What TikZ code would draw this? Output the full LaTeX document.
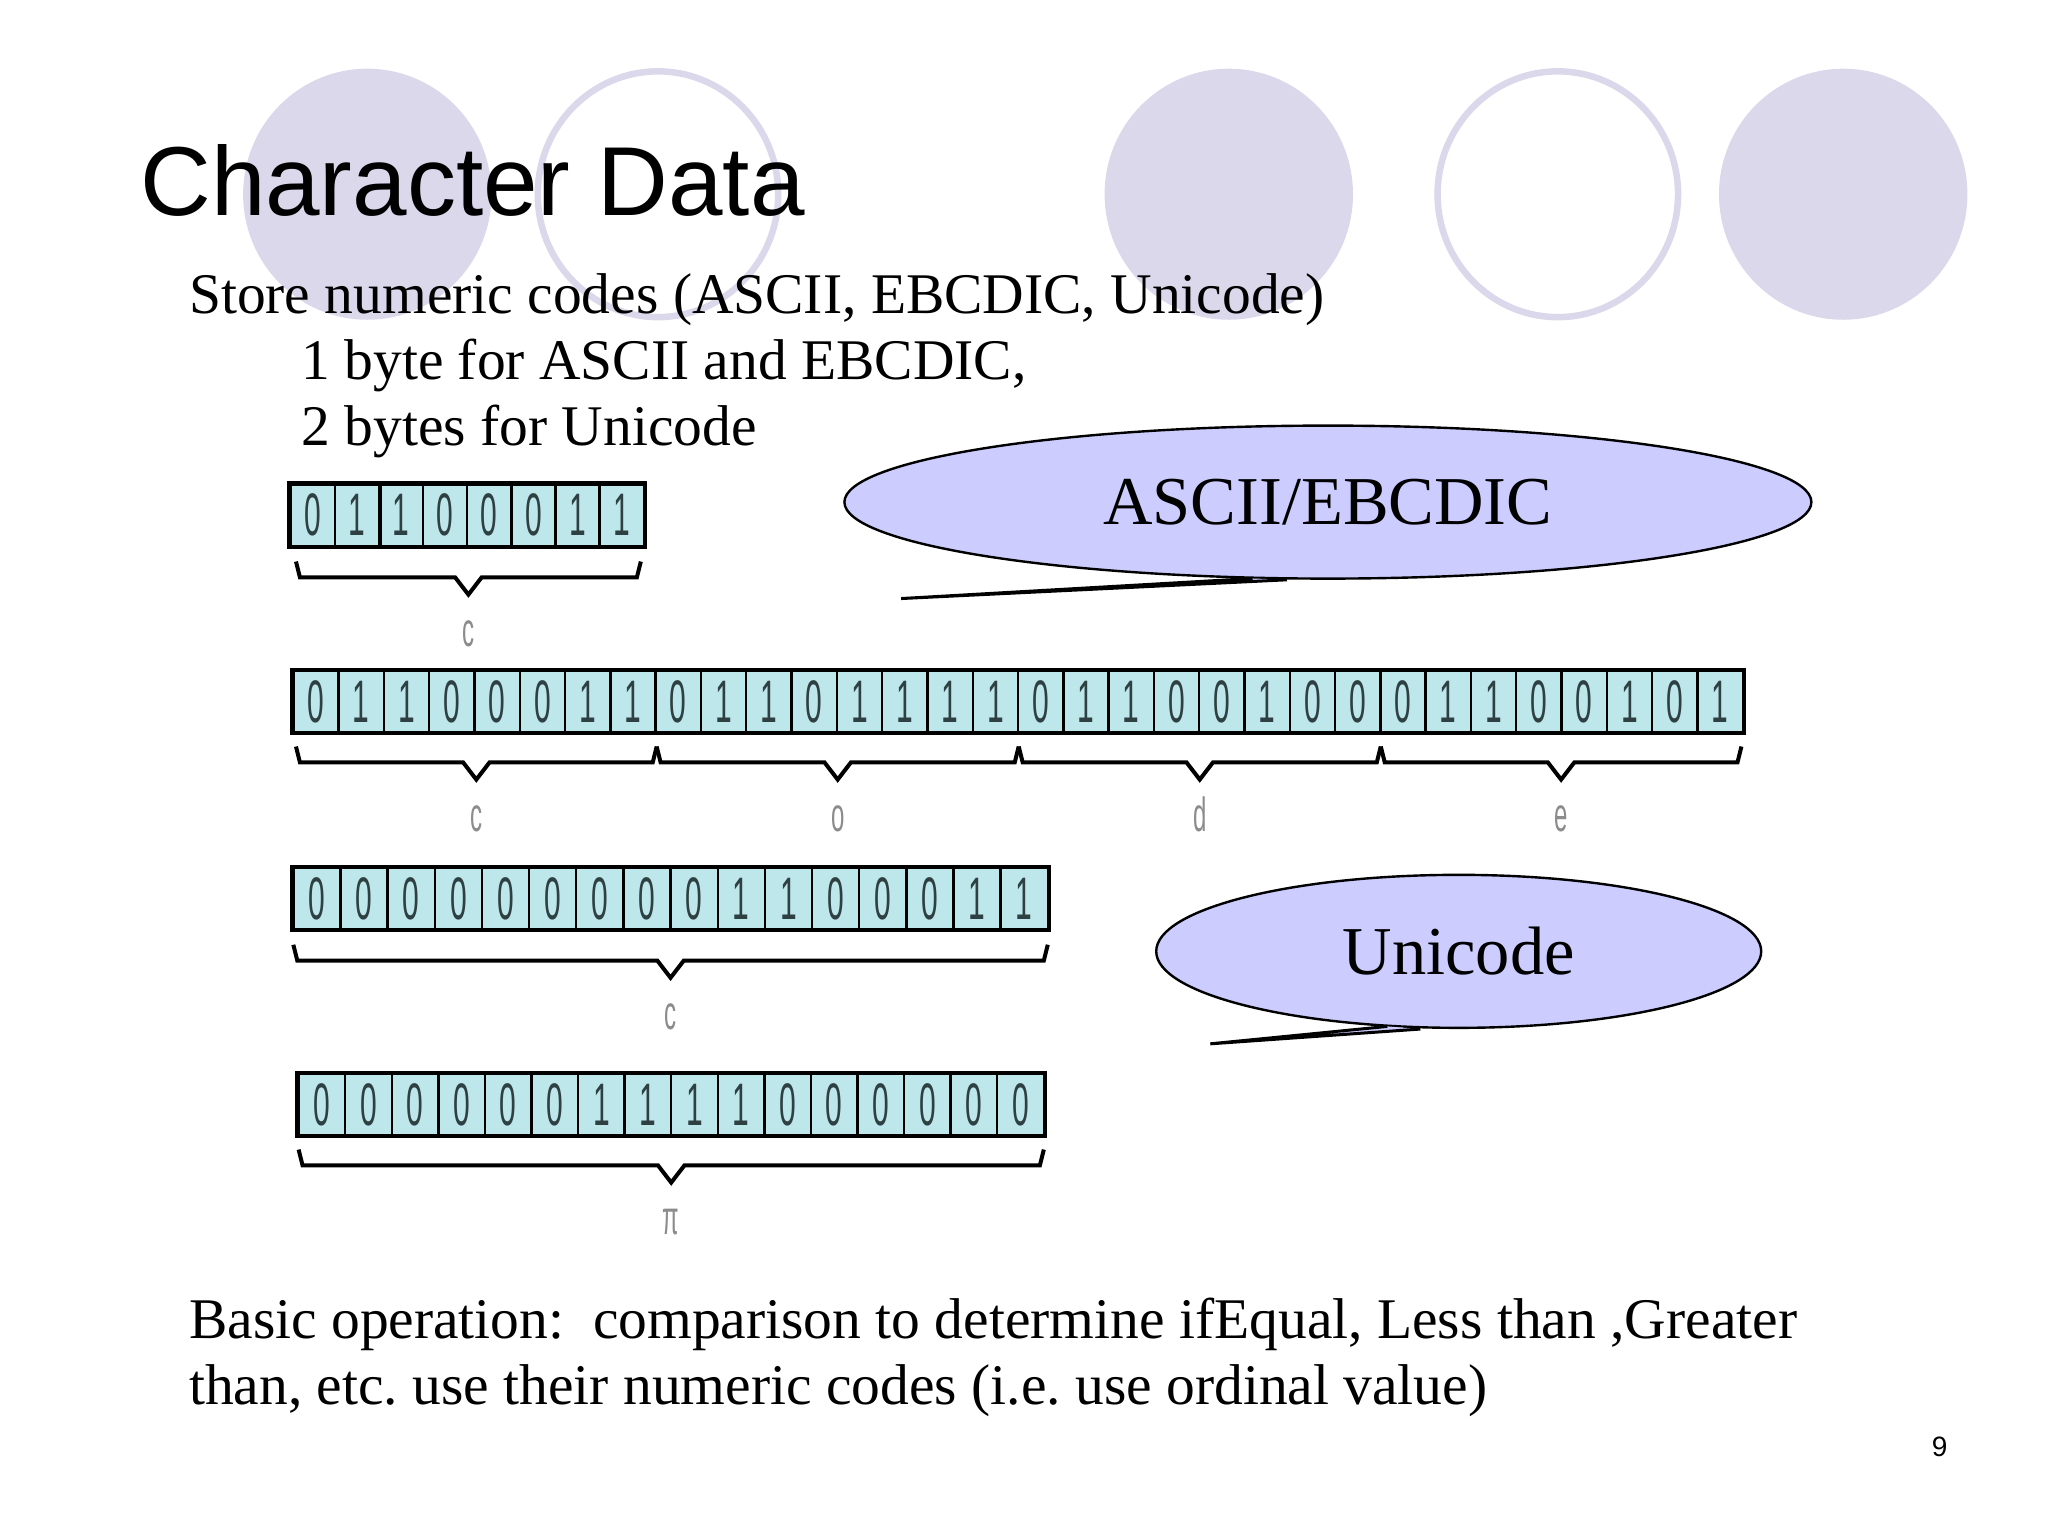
\documentclass[tikz,border=0pt]{standalone}
\usepackage{fontspec}
\setmainfont{Liberation Serif}
\newfontfamily\headfont{Liberation Sans}
\newfontfamily\bitfont[FakeStretch=0.5]{Liberation Sans}
\usetikzlibrary{shapes.geometric,calc}
\usepackage{xcolor}
\definecolor{decolilac}{HTML}{DAD8EA}
\definecolor{calloutlilac}{HTML}{CCCCFF}
\definecolor{bitcyan}{HTML}{BEE7EC}
\definecolor{bitdigit}{HTML}{2E4042}
\definecolor{labelgray}{HTML}{8C8C8C}
\newlength\pxunit
\setlength\pxunit{1.3213pt}

\tikzset{
  bitcell/.style={draw=black, line width=2.4pt, fill=bitcyan, inner sep=0pt,
    minimum height=46\pxunit, text=bitdigit, font=\bitfont\fontsize{60}{64}\selectfont},
  rowframe/.style={draw=black, line width=4.5pt},
  bracepath/.style={draw=black, line width=4pt, line join=miter},
  codelabel/.style={anchor=base, inner sep=0pt, text=labelgray, font=\bitfont\fontsize{48}{52}\selectfont},
  callout/.style={ellipse, draw=black, line width=2.4pt, fill=calloutlilac, inner sep=0pt,
    font=\fontsize{68.5}{72}\selectfont},
  callouttail/.style={fill=calloutlilac, draw=black, line width=3pt, line join=miter},
  slidetext/.style={anchor=base west, inner sep=0pt, font=\fontsize{57.5}{66}\selectfont},
}

\newcommand\bitrow[6]{%
  \foreach \b [count=\i] in {#6}
    \node[bitcell, minimum width=#5\pxunit] (#1-\i) at ({#3+(\i-0.5)*#5},{#4+23}) {\b};
  \draw[rowframe] (#1-1.north west) rectangle (#1-#2.south east);
}
\newcommand\codebrace[5]{%
  \draw[bracepath] (#2,#4) -- ({#2+3},{#4+12}) -- ({(#2+#3)/2-10},{#4+12})
    -- ({(#2+#3)/2},{#4+25}) -- ({(#2+#3)/2+10},{#4+12}) -- ({#3-3},{#4+12}) -- (#3,#4);
  \node[codelabel] (#1) at ({(#2+#3)/2},{#4+64}) {#5};
}

\begin{document}
\frenchspacing
\begin{tikzpicture}[x=1.3213pt, y=-1.3213pt]
	\fill[white] (0,0) rectangle (1550,1162.5);
	\useasboundingbox (0,0) rectangle (1550,1162.5);

	\foreach \cx in {278, 930, 1395}
		\fill[decolilac] (\cx,147) ellipse [x radius=94, y radius=95];
	\foreach \cx in {498, 1179}
		\draw[decolilac, line width=6.5pt] (\cx,147) ellipse [x radius=91, y radius=93];

	\node[anchor=base west, inner sep=0pt, font=\headfont\fontsize{98}{110}\selectfont] (title) at (106,163) {Character Data};
	\node[slidetext] (store) at (143,237) {Store numeric codes (ASCII, EBCDIC, Unicode)};
	\node[slidetext] (onebyte) at (228,287) {1 byte for ASCII and EBCDIC,};
	\node[slidetext] (twobyte) at (228,337) {2 bytes for Unicode};

	\bitrow{ra}{8}{220}{367}{33.4}{0,1,1,0,0,0,1,1}
	\draw[rowframe] (ra-2.north east) -- (ra-2.south east);
	\codebrace{ca}{224}{485}{425}{c}

	\bitrow{rb}{32}{222}{508}{34.28}{0,1,1,0,0,0,1,1,0,1,1,0,1,1,1,1,0,1,1,0,0,1,0,0,0,1,1,0,0,1,0,1}
	\codebrace{cb}{224}{497}{565}{c}
	\codebrace{ob}{497}{771}{565}{o}
	\codebrace{db}{771}{1045}{565}{d}
	\codebrace{eb}{1045}{1318}{565}{e}

	\bitrow{rc}{16}{222}{657}{35.69}{0,0,0,0,0,0,0,0,0,1,1,0,0,0,1,1}
	\codebrace{cc}{222}{793}{715}{c}

	\bitrow{rd}{16}{226}{813}{35.25}{0,0,0,0,0,0,1,1,1,1,0,0,0,0,0,0}
	\codebrace{pid}{226}{790}{870}{π}

	\node[callout, minimum width=967pt, minimum height=153pt] (ascii) at (1005,380) {ASCII/EBCDIC};
	\coordinate (asciitip) at (682,453);
	\filldraw[callouttail] ($(ascii.south)+(-57,-1)$) -- (asciitip) -- ($(ascii.south)+(-31,0)$);

	\node[callout, minimum width=605pt, minimum height=153pt] (uni) at (1104,720) {Unicode};
	\coordinate (unitip) at (916,790);
	\filldraw[callouttail] ($(uni.south)+(-54,-2)$) -- (unitip) -- ($(uni.south)+(-29,0)$);

	\node[slidetext] (basic) at (143,1013) {Basic operation:\ \ comparison to determine ifEqual, Less than ,Greater};
	\node[slidetext] (basictwo) at (143,1063) {than, etc. use their numeric codes (i.e. use ordinal value)};

	\node[anchor=base east, inner sep=0pt, font=\headfont\fontsize{28}{30}\selectfont] (page) at (1474,1102) {9};
\end{tikzpicture}
\end{document}
